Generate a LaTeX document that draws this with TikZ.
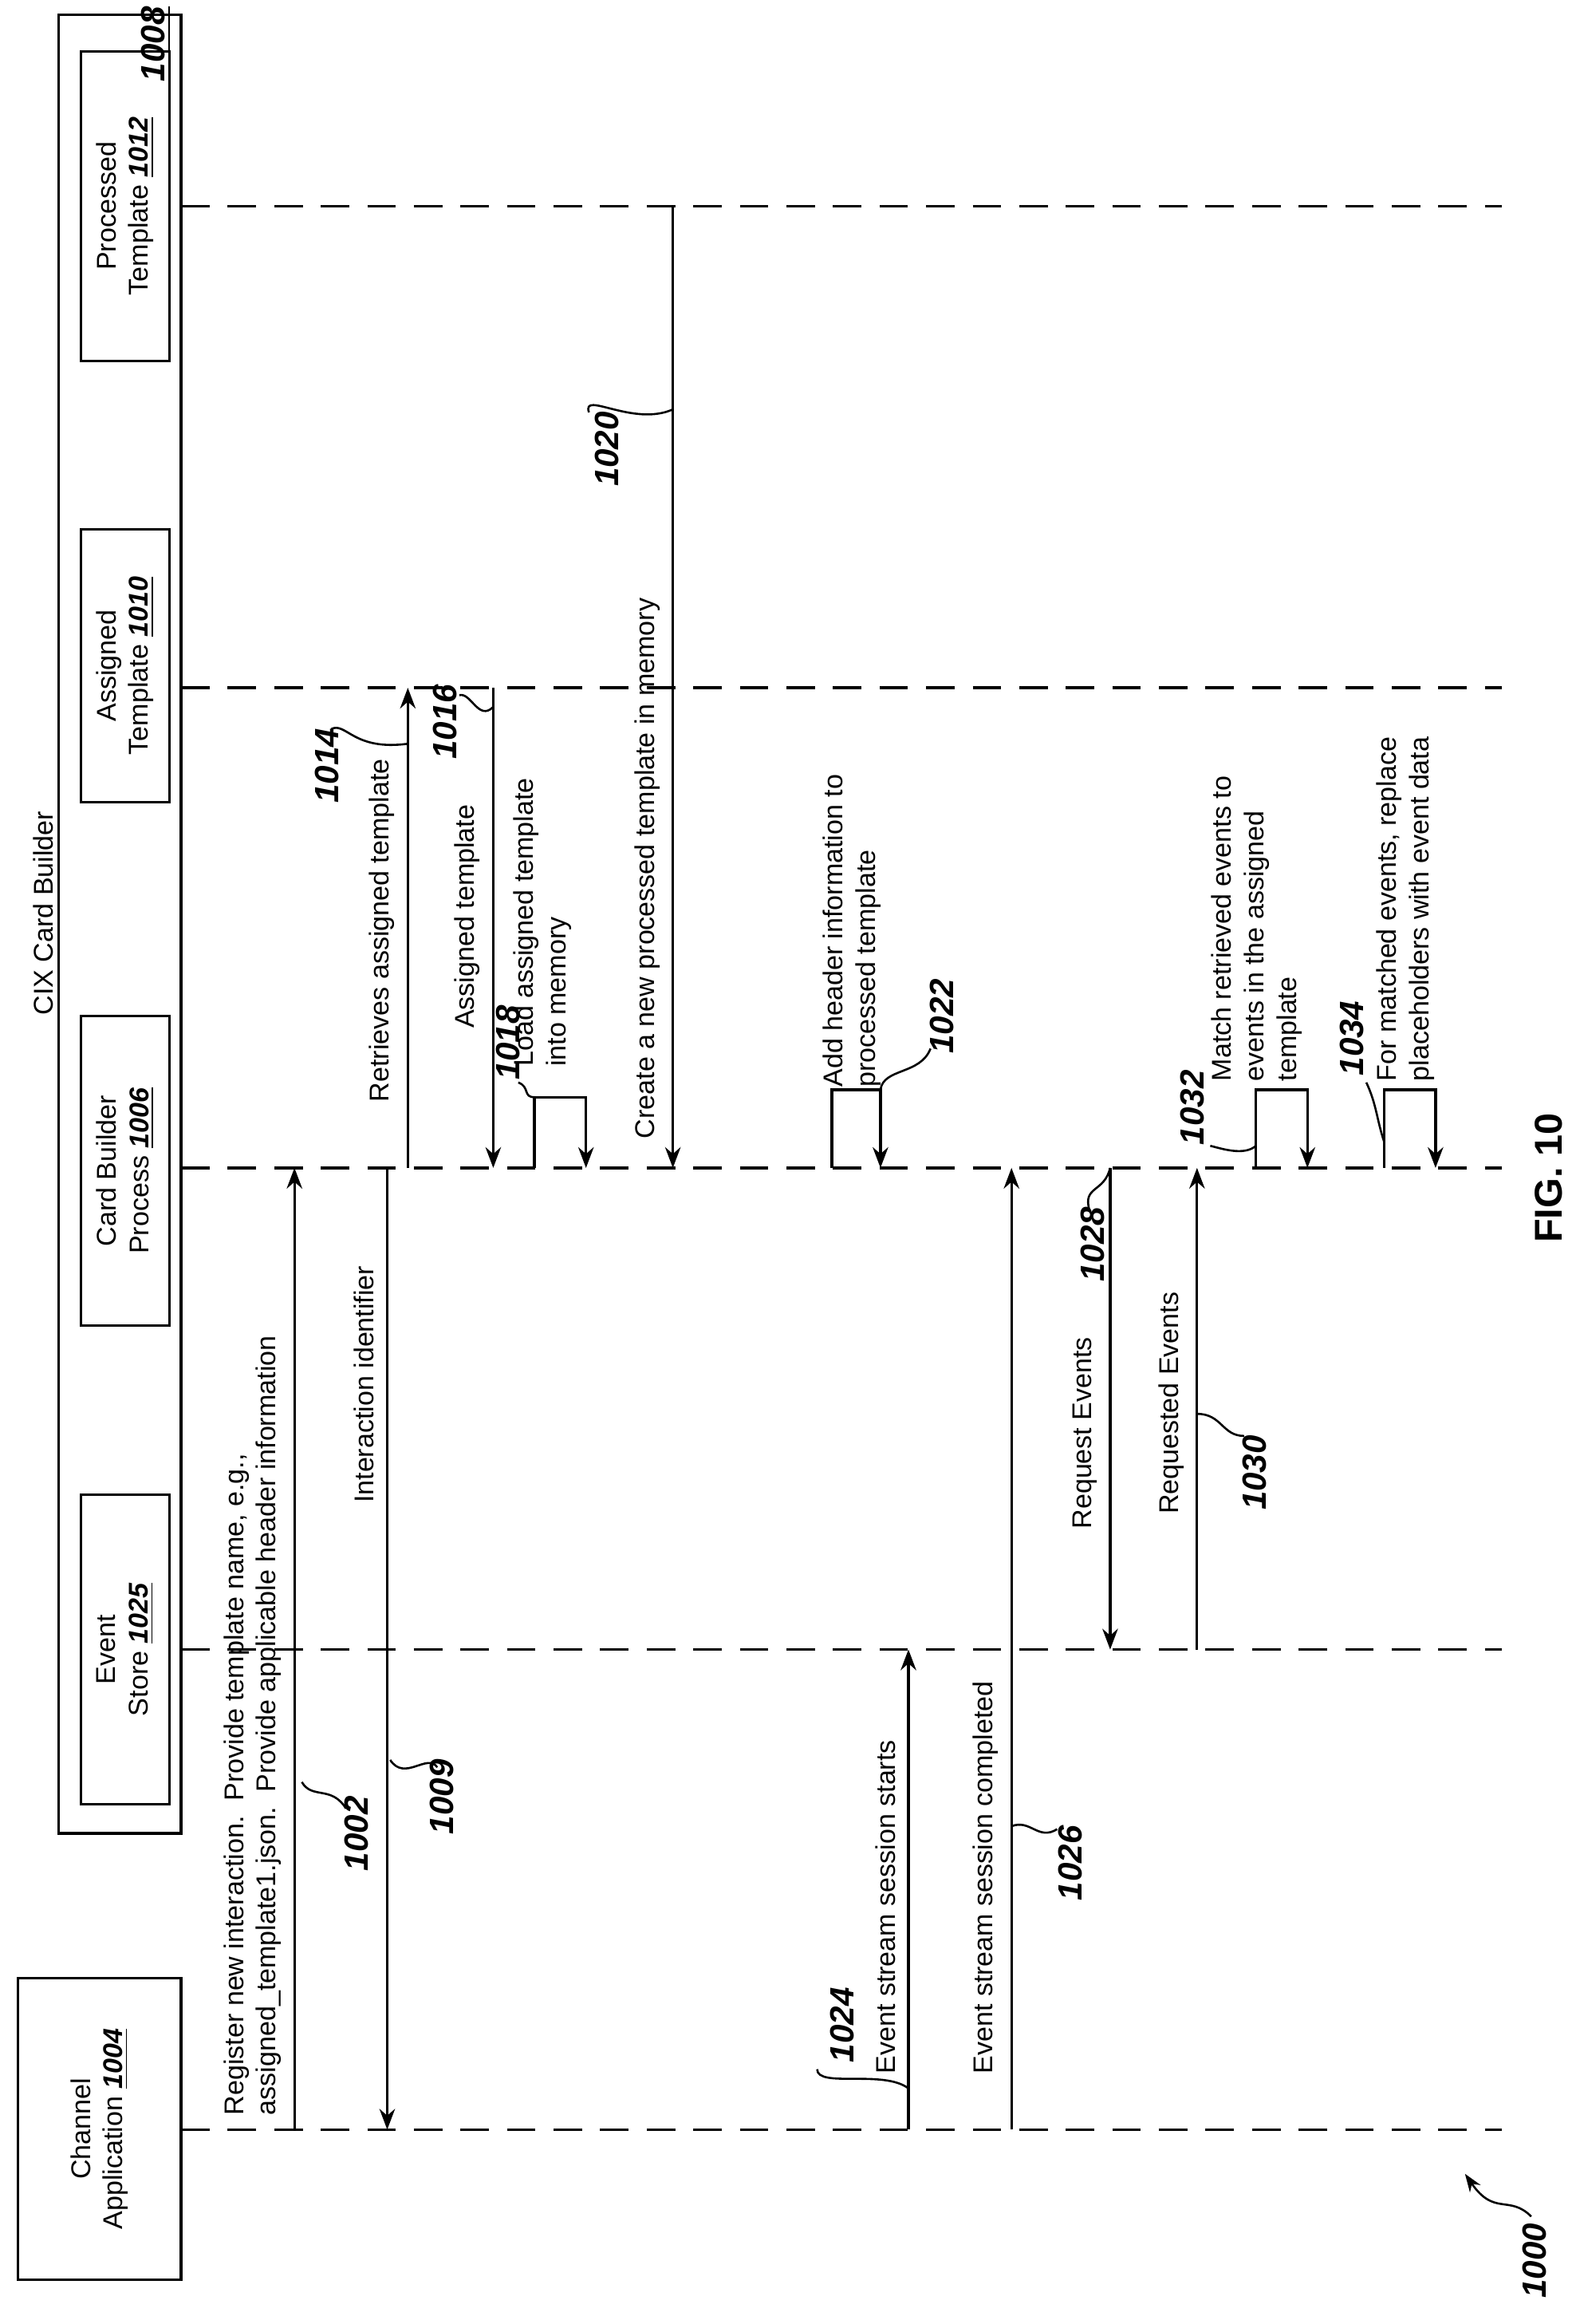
\documentclass[tikz,border=0pt]{standalone}
\usepackage{fontspec}
\setmainfont{Liberation Sans}
\usetikzlibrary{arrows.meta}
\begin{document}
\begin{tikzpicture}[x=0.02cm,y=-0.02cm,
  lbl/.style={rotate=90,font=\fontsize{10.5}{12.5}\selectfont,align=left,inner sep=2pt},
  num/.style={rotate=90,font=\fontsize{13}{15}\selectfont\bfseries\itshape,inner sep=1pt},
  life/.style={dash pattern=on 11pt off 7pt,line width=1pt},
  msg/.style={line width=1pt,-{Stealth[length=8pt,width=6pt]}},
  box/.style={draw,line width=1pt,rotate=90,font=\fontsize{10.5}{12.5}\selectfont,align=center},
  lead/.style={line width=0.8pt}]
\useasboundingbox (0,0) rectangle (1073,1578);
% boxes
\node[box,minimum width=4.1cm,minimum height=2.22cm] (chbox) at (67.5,1445.5) {Channel\\Application \underline{\textbf{\textit{1004}}}};
\node[draw,line width=1pt,minimum width=1.66cm,minimum height=24.7cm] (cix) at (81.5,627.5) {};
\node[lbl,anchor=south] (cixt) at (40,620) {CIX Card Builder};
\node[num] (n1008) at (106,30) {\underline{1008}};
\node[box,minimum width=4.2cm,minimum height=1.2cm] (esbox) at (85,1120) {Event\\Store \underline{\textbf{\textit{1025}}}};
\node[box,minimum width=4.2cm,minimum height=1.2cm] (cbbox) at (85,795) {Card Builder\\Process \underline{\textbf{\textit{1006}}}};
\node[box,minimum width=3.7cm,minimum height=1.2cm] (atbox) at (85,452) {Assigned\\Template \underline{\textbf{\textit{1010}}}};
\node[box,minimum width=4.2cm,minimum height=1.2cm] (ptbox) at (85,140) {Processed\\Template \underline{\textbf{\textit{1012}}}};
% lifelines
\foreach \nm/\yy in {ch/1446,es/1120,cb/793,at/467,pt/140}{
  \coordinate (\nm) at (123,\yy);
  \coordinate (\nm end) at (1020,\yy);
  \draw[life] (\nm) -- (\nm end);
}
% messages
\draw[msg] (200,0 |- ch) -- (200,0 |- cb);
\node[lbl,anchor=south west] (t1002) at (195,1440) {Register new interaction.\ \ Provide template name, e.g.,\\assigned\_template1.json.\ \ Provide applicable header information};
\draw[msg] (263,0 |- cb) -- (263,0 |- ch);
\node[lbl,anchor=south] (t1009) at (258,940) {Interaction identifier};
\draw[msg] (277,0 |- cb) -- (277,0 |- at);
\node[lbl,anchor=south west] (t1014) at (272,752) {Retrieves assigned template};
\draw[msg] (335,0 |- at) -- (335,0 |- cb);
\node[lbl,anchor=south west] (t1016) at (330,702) {Assigned template};
\draw[msg] (363,0 |- cb) -- (363,745) -- (398,745) -- (398,0 |- cb);
\node[lbl,anchor=south west] (t1018) at (392,728) {Load assigned template\\into memory};
\draw[msg] (457,0 |- pt) -- (457,0 |- cb);
\node[lbl,anchor=south west] (t1020) at (452,777) {Create a new processed template in memory};
\draw[msg] (565,0 |- cb) -- (565,740) -- (598,740) -- (598,0 |- cb);
\node[lbl,anchor=south west] (t1022) at (602,742) {Add header information to\\processed template};
\draw[msg] (617,0 |- ch) -- (617,0 |- es);
\node[lbl,anchor=south west] (t1024) at (612,1412) {Event stream session starts};
\draw[msg] (687,0 |- ch) -- (687,0 |- cb);
\node[lbl,anchor=south west] (t1026) at (682,1412) {Event stream session completed};
\draw[msg] (754,0 |- cb) -- (754,0 |- es);
\node[lbl,anchor=south west] (t1028) at (749,1042) {Request Events};
\draw[msg] (813,0 |- es) -- (813,0 |- cb);
\node[lbl,anchor=south west] (t1030) at (808,1032) {Requested Events};
\draw[msg] (853,0 |- cb) -- (853,740) -- (888,740) -- (888,0 |- cb);
\node[lbl,anchor=south west] (t1032) at (888,738) {Match retrieved events to\\events in the assigned\\template};
\draw[msg] (940,0 |- cb) -- (940,740) -- (975,740) -- (975,0 |- cb);
\node[lbl,anchor=south west] (t1034) at (978,738) {For matched events, replace\\placeholders with event data};
% reference numerals
\node[num] (n1002) at (242,1245) {1002};
\draw[lead] (205,1210) .. controls (212,1222) and (225,1212) .. (235,1228);
\node[num] (n1009) at (300,1220) {1009};
\draw[lead] (265,1195) .. controls (275,1210) and (290,1190) .. (297,1200);
\node[num] (n1014) at (222,520) {1014};
\draw[lead] (225,495) .. controls (235,490) and (240,510) .. (277,505);
\node[num] (n1016) at (302,490) {1016};
\draw[lead] (335,480) .. controls (325,490) and (320,470) .. (312,472);
\node[num] (n1018) at (345,708) {1018};
\draw[lead] (363,745) .. controls (355,745) and (360,738) .. (352,735);
\node[num] (n1020) at (412,305) {1020};
\draw[lead] (400,280) .. controls (395,265) and (430,290) .. (457,278);
\node[num] (n1022) at (640,690) {1022};
\draw[lead] (598,740) .. controls (600,725) and (625,730) .. (632,712);
\node[num] (n1024) at (572,1375) {1024};
\draw[lead] (555,1405) .. controls (555,1418) and (600,1405) .. (617,1418);
\node[num] (n1026) at (727,1265) {1026};
\draw[lead] (687,1240) .. controls (700,1235) and (705,1250) .. (718,1242);
\node[num] (n1028) at (742,845) {1028};
\draw[lead] (754,793) .. controls (750,810) and (735,805) .. (740,822);
\node[num] (n1030) at (852,1000) {1030};
\draw[lead] (813,960) .. controls (830,960) and (830,975) .. (845,975);
\node[num] (n1032) at (810,752) {1032};
\draw[lead] (853,778) .. controls (845,785) and (830,780) .. (822,778);
\node[num] (n1034) at (918,705) {1034};
\draw[lead] (940,775) .. controls (935,760) and (935,750) .. (928,735);
\node[rotate=90,font=\fontsize{15}{17}\selectfont\bfseries] (fig) at (1052,800) {FIG. 10};
\node[num] (n1000) at (1042,1535) {1000};
\draw[lead,-{Stealth[length=7pt,width=5pt]}] (1040,1505) .. controls (1025,1490) and (1015,1505) .. (995,1476);
\end{tikzpicture}
\end{document}
